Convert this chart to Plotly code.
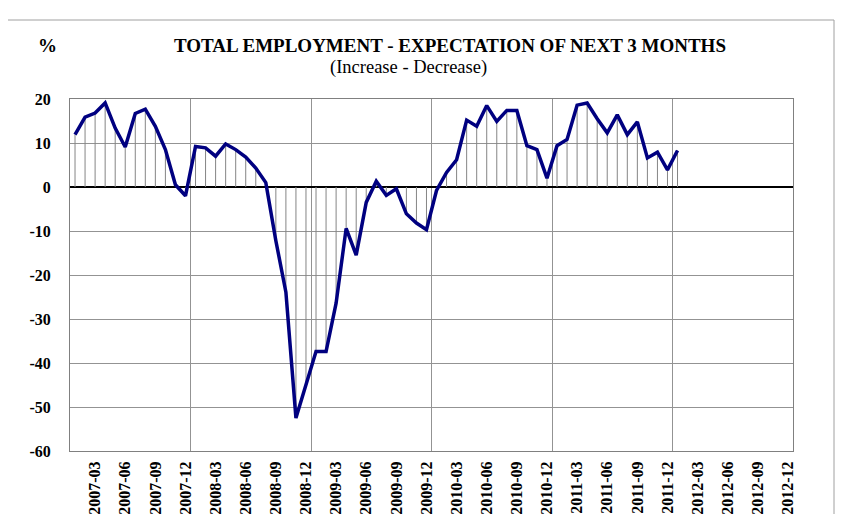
import plotly.graph_objects as go

# ---- data ----
months = [f"{y}-{m:02d}" for y in range(2007, 2013) for m in range(1, 13)]
values = [11.9, 15.9, 16.8, 19.1, 13.4, 9.1, 16.7, 17.7, 13.8, 8.5, 0.5, -2.0,
          9.2, 8.9, 7.0, 9.8, 8.5, 6.8, 4.3, 1.0, -12.2, -23.9, -52.5, -44.9,
          -37.4, -37.4, -26.4, -9.4, -15.5, -3.5, 1.3, -1.9, -0.4, -6.1, -8.2, -9.7,
          -0.8, 3.3, 6.2, 15.2, 13.8, 18.5, 14.9, 17.4, 17.4, 9.4, 8.5, 2.0,
          9.4, 10.8, 18.6, 19.1, 15.5, 12.3, 16.4, 11.9, 14.8, 6.6, 7.9, 3.9,
          8.3]
tick_labels = [m for m in months if int(m[-2:]) % 3 == 0]
y_ticks = [20, 10, 0, -10, -20, -30, -40, -50, -60]
y_tick_text = [str(v) for v in y_ticks]   # plain hyphen minus, as in the original
title = "TOTAL EMPLOYMENT - EXPECTATION OF NEXT 3 MONTHS"
subtitle = "(Increase - Decrease)"
y_unit = "%"

x_idx = list(range(len(values)))
tick_idx = [months.index(t) for t in tick_labels]

# drop lines from zero to each value
dx, dy = [], []
for i, v in zip(x_idx, values):
    dx += [i, i, None]
    dy += [0, v, None]

FONT = "Liberation Serif"

fig = go.Figure()
fig.add_trace(go.Scatter(x=dx, y=dy, mode="lines",
                         line=dict(color="#858585", width=1),
                         hoverinfo="skip", showlegend=False))
fig.add_trace(go.Scatter(x=x_idx, y=values, mode="lines",
                         line=dict(color="#000080", width=3.5),
                         showlegend=False))

# page geometry: body margin of 8px offsets the figure
OFF = 8
W, H = 845 - OFF, 514 - OFF
L, T = 70 - OFF, 99 - OFF
pw, ph = 723, 352
R, B = W - L - pw, H - T - ph

def px(x):
    return (x - OFF - L) / pw

def py(y):
    return (OFF + T + ph - y) / ph

fig.update_layout(
    width=W, height=H,
    margin=dict(l=L, r=R, t=T, b=B, pad=0, autoexpand=False),
    paper_bgcolor="white", plot_bgcolor="white",
    font=dict(family=FONT, color="black"),
    xaxis=dict(
        range=[-0.5, len(months) - 0.5], automargin=False,
        tickmode="array", tickvals=tick_idx, ticktext=tick_labels,
        tickangle=-90, tickfont=dict(family=FONT, size=16, color="black", weight="bold"),
        ticks="", showgrid=False, zeroline=False,
        showline=True, linecolor="#808080", linewidth=1, mirror=True,
        ticklabelstandoff=3,
        minor=dict(tickmode="linear", tick0=-0.5, dtick=12, showgrid=True,
                   gridcolor="#939393", gridwidth=1, ticks=""),
    ),
    yaxis=dict(
        range=[-60, 20], automargin=False,
        tickmode="array", tickvals=y_ticks, ticktext=y_tick_text,
        tickfont=dict(family=FONT, size=16, color="black", weight="bold"),
        showgrid=True, gridcolor="#939393", gridwidth=1,
        zeroline=True, zerolinecolor="black", zerolinewidth=1.5,
        showline=True, linecolor="#808080", linewidth=1, mirror=True,
        ticks="", ticklabelstandoff=15,
    ),
    annotations=[
        dict(text=f"<b>{title}</b>", x=px(450), y=py(45), xref="paper", yref="paper",
             xanchor="center", yanchor="middle", showarrow=False,
             font=dict(family=FONT, size=19, color="black")),
        dict(text=subtitle, x=px(408), y=py(67), xref="paper", yref="paper",
             xanchor="center", yanchor="middle", showarrow=False,
             font=dict(family=FONT, size=18.5, color="black")),
        dict(text=f"<b>{y_unit}</b>", x=px(47), y=py(45), xref="paper", yref="paper",
             xanchor="center", yanchor="middle", showarrow=False,
             font=dict(family=FONT, size=19, color="black")),
    ],
    shapes=[
        dict(type="rect", xref="paper", yref="paper",
             x0=px(6), x1=px(834), y0=py(540), y1=py(20),
             line=dict(color="#a0a0a0", width=1), fillcolor="rgba(0,0,0,0)", layer="below"),
    ],
)

fig.write_html("out.html")
